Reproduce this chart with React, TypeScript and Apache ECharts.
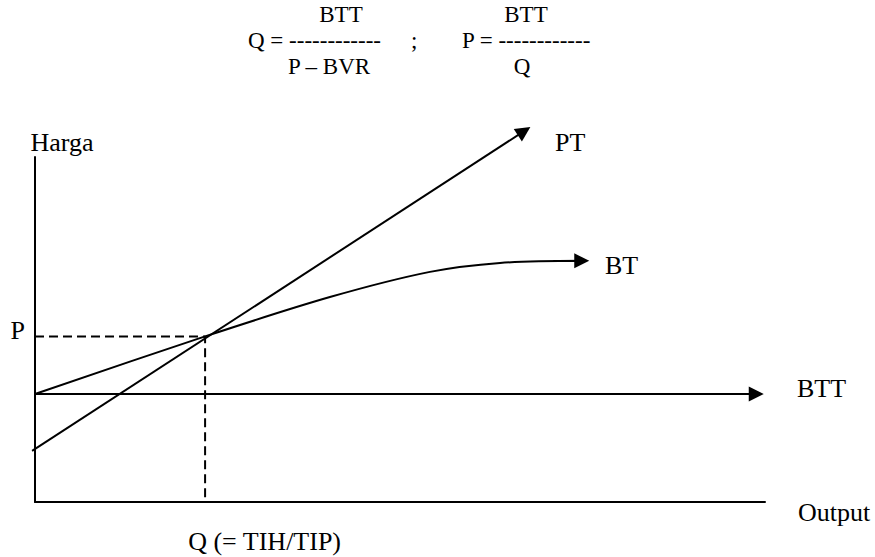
import React, { useEffect, useRef } from "react";
import * as echarts from "echarts";

// ---- Data (chart units: Output on x, Harga on y, axes 0–100) ----
const Q_VALUE = 23.3;
const P_VALUE = 48.0;
const BTT_VALUE = 31.3;
const PT_POINTS = [
  [-0.4, 14.8],
  [67.0, 107.5],
];
const BTT_POINTS = [
  [0, BTT_VALUE],
  [98.8, BTT_VALUE],
];
const BT_POINTS = [
  [0, 31.3],
  [23.3, 48.0],
  [40.4, 59.4],
  [54.1, 66.7],
  [63.7, 69.3],
  [74.9, 69.9],
];
const BT_ARROW = [
  [71.0, 69.9],
  [74.9, 69.9],
];
const DASHED_POINTS = [
  [0, P_VALUE],
  [Q_VALUE, P_VALUE],
  [Q_VALUE, 0],
];
const X_NAME = "Output";
const Y_NAME = "Harga";
const Q_LABEL = "Q (= TIH/TIP)";
const P_LABEL = "P";
const CURVE_LABELS = ["PT", "BT", "BTT"];

const FONT = "'Liberation Serif', 'Times New Roman', serif";
const FS = 26;
const FS_FORMULA = 23;

export default function App() {
  const ref = useRef<HTMLDivElement>(null);
  useEffect(() => {
    if (!ref.current) return;
    const chart = echarts.init(ref.current, null, { renderer: "svg" });
    const txt = (text: string, x: number, y: number, align = "left", size = FS) => ({
      type: "text",
      x,
      y,
      style: {
        text,
        fontFamily: FONT,
        fontSize: size,
        fill: "#000",
        align,
        verticalAlign: "middle",
      },
    });
    const option: any = {
      animation: false,
      backgroundColor: "#fff",
      textStyle: { fontFamily: FONT },
      grid: {
        left: 35,
        top: 157,
        width: 730,
        height: 345,
        containLabel: false,
        outerBoundsMode: "none",
      },
      xAxis: {
        type: "value",
        min: 0,
        max: 100,
        axisLine: { show: true, lineStyle: { color: "#000", width: 2 } },
        axisTick: { show: false },
        splitLine: { show: false },
        axisLabel: {
          show: true,
          customValues: [Q_VALUE],
          formatter: () => Q_LABEL,
          fontFamily: FONT,
          fontSize: FS,
          color: "#000",
          margin: 26,
          align: "center",
          padding: [0, 0, 0, 119],
        },
        name: X_NAME,
        nameLocation: "end",
        nameGap: 33,
        nameTextStyle: {
          fontFamily: FONT,
          fontSize: FS,
          color: "#000",
          verticalAlign: "top",
          lineHeight: 20,
        },
      },
      yAxis: {
        type: "value",
        min: 0,
        max: 100,
        axisLine: { show: true, lineStyle: { color: "#000", width: 2 } },
        axisTick: { show: false },
        splitLine: { show: false },
        axisLabel: {
          show: true,
          customValues: [P_VALUE],
          formatter: () => P_LABEL,
          fontFamily: FONT,
          fontSize: FS,
          color: "#000",
          margin: 10,
          verticalAlign: "bottom",
          lineHeight: 12,
        },
        name: Y_NAME,
        nameLocation: "end",
        nameGap: 2,
        nameTextStyle: {
          fontFamily: FONT,
          fontSize: FS,
          color: "#000",
          align: "center",
          verticalAlign: "bottom",
          padding: [0, 0, 0, 54],
        },
      },
      series: [
        {
          type: "line",
          name: "BT",
          data: BT_POINTS,
          smooth: 0.3,
          symbol: "none",
          clip: false,
          lineStyle: { color: "#000", width: 2 },
        },
        {
          type: "line",
          name: "dashed",
          data: DASHED_POINTS,
          symbol: "none",
          clip: false,
          lineStyle: { color: "#000", width: 2, type: [9, 5] },
        },
        {
          type: "lines",
          coordinateSystem: "cartesian2d",
          clip: false,
          symbol: ["none", "triangle"],
          symbolSize: [13, 15],
          lineStyle: { color: "#000", width: 2, opacity: 1 },
          itemStyle: { color: "#000" },
          data: [
            { name: "PT", coords: PT_POINTS },
            { name: "BTT", coords: BTT_POINTS },
            { name: "BT", coords: BT_ARROW },
          ],
        },
      ],
      graphic: {
        elements: [
          txt("BTT", 341, 14, "center", FS_FORMULA),
          txt("Q = ------------", 248, 40, "left", FS_FORMULA),
          txt(";", 411, 40, "left", FS_FORMULA),
          txt("P = ------------", 462, 40, "left", FS_FORMULA),
          txt("BTT", 526, 14, "center", FS_FORMULA),
          txt("P \u2013 BVR", 329, 66, "center", FS_FORMULA),
          txt("Q", 522, 66, "center", FS_FORMULA),
          txt(CURVE_LABELS[0], 555, 142),
          txt(CURVE_LABELS[1], 605, 265),
          txt(CURVE_LABELS[2], 797, 388),
        ],
      },
    };
    chart.setOption(option);
    return () => chart.dispose();
  }, []);
  return (
    <div
      ref={ref}
      style={{ position: "fixed", left: 0, top: 0, width: 875, height: 557, background: "#fff" }}
    />
  );
}
